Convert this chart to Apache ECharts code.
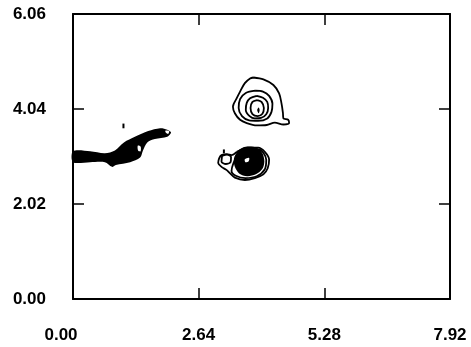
<!DOCTYPE html>
<html>
<head>
<meta charset="utf-8">
<script src="https://cdn.jsdelivr.net/npm/echarts@6/dist/echarts.min.js"></script>
<style>
  body { margin: 0; background: #fff; }
  #main { width: 471px; height: 347px; }
</style>
</head>
<body>
<div id="main"></div>
<script>
// axis ticks
const xTicks = [0, 2.64, 5.28, 7.92]
const yTicks = [0, 2.02, 4.04, 6.06]

// contour rings (x, y)
const upperOuter = [[3.79, 4.71], [4.00, 4.67], [4.21, 4.55], [4.33, 4.37], [4.38, 4.16], [4.41, 3.96], [4.42, 3.84], [4.52, 3.81], [4.54, 3.74], [4.42, 3.71], [4.24, 3.75], [4.07, 3.70], [3.86, 3.69], [3.65, 3.74], [3.51, 3.81], [3.40, 3.95], [3.36, 4.09], [3.44, 4.27], [3.51, 4.41], [3.61, 4.59], [3.72, 4.69]]
const upperRing2 = [[3.83, 4.43], [3.99, 4.41], [4.12, 4.32], [4.19, 4.15], [4.17, 3.98], [4.08, 3.84], [3.89, 3.79], [3.70, 3.80], [3.55, 3.89], [3.48, 4.06], [3.51, 4.25], [3.63, 4.38]]
const upperRing3 = [[3.86, 4.32], [3.99, 4.28], [4.08, 4.19], [4.10, 4.06], [4.06, 3.93], [3.95, 3.85], [3.82, 3.84], [3.71, 3.89], [3.63, 4.02], [3.65, 4.17], [3.72, 4.27]]
const upperRing4 = [[3.87, 4.23], [3.96, 4.19], [4.01, 4.06], [3.98, 3.94], [3.88, 3.89], [3.77, 3.93], [3.73, 4.06], [3.77, 4.19]]
const lowerOuter = [[3.44, 3.13], [3.68, 3.22], [3.89, 3.22], [4.03, 3.13], [4.12, 2.96], [4.09, 2.78], [4.00, 2.65], [3.82, 2.57], [3.61, 2.53], [3.40, 2.58], [3.30, 2.67], [3.23, 2.74], [3.12, 2.81], [3.05, 2.89], [3.07, 2.99], [3.12, 3.06], [3.23, 3.08], [3.33, 3.06]]
const lowerMid = [[3.50, 3.16], [3.90, 3.18], [4.06, 2.96], [4.03, 2.76], [3.86, 2.61], [3.62, 2.57], [3.42, 2.62], [3.33, 2.72]]
const lowerLobe = [[3.13, 3.04], [3.24, 3.07], [3.32, 3.02], [3.31, 2.91], [3.21, 2.87], [3.12, 2.92]]

// short isolated marks
const streakDash = [[1.06, 3.73], [1.06, 3.63]]
const lowerDash = [[3.17, 3.18], [3.17, 3.10]]

// solid (saturated) regions
const streakFill = [[0, 3.14], [0.36, 3.14], [0.67, 3.10], [0.88, 3.16], [1.07, 3.33], [1.30, 3.45], [1.58, 3.57], [1.83, 3.63], [1.98, 3.60], [2.06, 3.54], [1.98, 3.45], [1.72, 3.40], [1.56, 3.33], [1.47, 3.16], [1.41, 3.01], [1.20, 2.91], [0.90, 2.85], [0.82, 2.81], [0.67, 2.91], [0.36, 2.91], [0, 2.91]]
const lowerCore = [[3.70, 3.24], [3.87, 3.21], [3.98, 3.10], [4.02, 2.93], [3.98, 2.77], [3.84, 2.65], [3.66, 2.61], [3.49, 2.67], [3.40, 2.81], [3.38, 2.98], [3.46, 3.14], [3.57, 3.22]]
const upperCore = [[3.90, 4.07], [3.92, 4.02], [3.90, 3.95], [3.87, 4.02]]

// gaps inside the solid regions
const streakHole1 = [[1.36, 3.26], [1.42, 3.24], [1.42, 3.14], [1.37, 3.15]]
const streakHole2 = [[1.94, 3.58], [2.02, 3.57], [2.00, 3.51], [1.95, 3.54]]
const lowerSlit = [[3.61, 2.97], [3.70, 3.00], [3.69, 2.93], [3.62, 2.91]]

const rings = [upperOuter, upperRing2, upperRing3, upperRing4, lowerOuter, lowerMid, lowerLobe]
const dashes = [streakDash, lowerDash]
const fills = [streakFill, lowerCore, upperCore]
const holes = [streakHole1, streakHole2, lowerSlit]

const chart = echarts.init(document.getElementById('main'))

const labelStyle = {
  color: '#000',
  fontFamily: 'Liberation Sans',
  fontWeight: 'bold',
  fontSize: 17
}

const makeXAxis = (pos, showLabel) => ({
  type: 'value',
  position: pos,
  min: 0,
  max: 7.92,
  axisLine: { show: true, onZero: false, lineStyle: { color: '#000', width: 2 } },
  axisTick: { show: true, inside: true, length: 11, customValues: xTicks, lineStyle: { color: '#000', width: 1.5 } },
  axisLabel: {
    show: showLabel,
    customValues: xTicks,
    margin: 28,
    formatter: v => (v === 0 ? '{first|0.00}' : v.toFixed(2)),
    rich: { first: { ...labelStyle, padding: [0, 24, 0, 0] } },
    ...labelStyle
  },
  splitLine: { show: false }
})

const makeYAxis = (pos, showLabel) => ({
  type: 'value',
  position: pos,
  min: 0,
  max: 6.06,
  axisLine: { show: true, onZero: false, lineStyle: { color: '#000', width: 2 } },
  axisTick: { show: true, inside: true, length: 11, customValues: yTicks, lineStyle: { color: '#000', width: 1.5 } },
  axisLabel: { show: showLabel, customValues: yTicks, margin: 27, formatter: v => v.toFixed(2), ...labelStyle },
  splitLine: { show: false }
})

const polySeries = (list, color, z) => ({
  type: 'custom',
  silent: true,
  z: z,
  data: list.map((_, i) => [i]),
  renderItem: (params, api) => ({
    type: 'polygon',
    shape: { points: list[params.dataIndex].map(p => api.coord(p)), smooth: 0.3 },
    style: { fill: color }
  })
})

const option = {
  animation: false,
  backgroundColor: '#fff',
  grid: { left: 73, right: 21, top: 14, bottom: 48, outerBoundsMode: 'none' },
  xAxis: [makeXAxis('bottom', true), makeXAxis('top', false)],
  yAxis: [makeYAxis('left', true), makeYAxis('right', false)],
  series: [
    ...rings.map(r => ({
      type: 'line',
      data: r.concat([r[0]]),
      showSymbol: false,
      smooth: 0.3,
      silent: true,
      lineStyle: { color: '#000', width: 1.8 }
    })),
    ...dashes.map(d => ({
      type: 'line',
      data: d,
      showSymbol: false,
      silent: true,
      lineStyle: { color: '#000', width: 2 }
    })),
    polySeries(fills, '#000', 2),
    polySeries(holes, '#fff', 3)
  ]
}

chart.setOption(option)
</script>
</body>
</html>
